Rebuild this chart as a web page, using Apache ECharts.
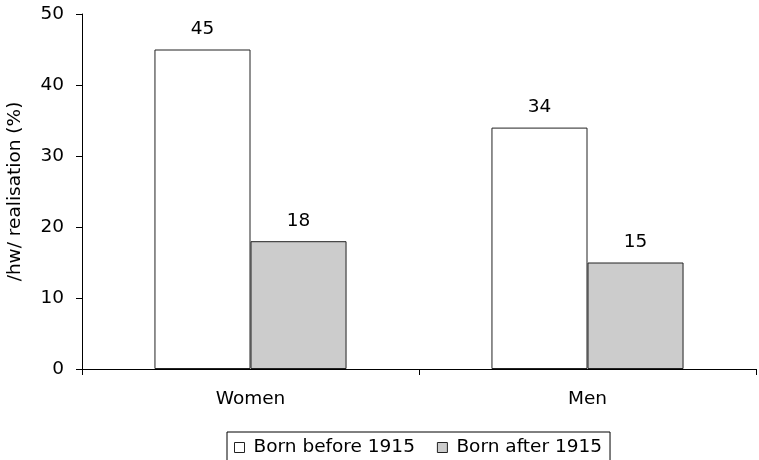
<!DOCTYPE html>
<html>
<head>
<meta charset="utf-8">
<title>/hw/ realisation by birth cohort</title>
<script src="https://cdn.jsdelivr.net/npm/echarts@6/dist/echarts.min.js"></script>
<style>
  html, body { margin: 0; padding: 0; background: #ffffff; }
  #chart { width: 759px; height: 460px; }
</style>
</head>
<body>
<div id="chart"></div>
<script>
// Groups on the horizontal axis
const categories = ['Women', 'Men'];

// Share of /hw/ realisation (%) per cohort
const bornBefore1915 = [45, 34];
const bornAfter1915 = [18, 15];

const seriesNames = ['Born before 1915', 'Born after 1915'];
const yAxisTitle = '/hw/ realisation (%)';

const FONT = 'DejaVu Sans';
const FS = 18.5;
const INK = '#000000';

const chart = echarts.init(document.getElementById('chart'), null, { renderer: 'canvas' });

const barLabel = {
  show: true,
  position: 'top',
  distance: 11,
  color: INK,
  fontFamily: FONT,
  fontSize: FS
};

chart.setOption({
  animation: false,
  backgroundColor: '#ffffff',
  grid: {
    left: 82, right: 3, top: 14, bottom: 91,
    containLabel: false,
    outerBoundsMode: 'none'
  },
  legend: {
    data: [
      { name: seriesNames[0], itemStyle: { color: '#ffffff', borderColor: '#222222', borderWidth: 1 } },
      { name: seriesNames[1], itemStyle: { color: '#cccccc', borderColor: '#222222', borderWidth: 1 } }
    ],
    left: 227,
    top: 432,
    icon: 'rect',
    itemWidth: 10,
    itemHeight: 10,
    itemGap: 22,
    padding: [6, 8, 6, 7],
    borderColor: INK,
    borderWidth: 1,
    textStyle: { color: INK, fontFamily: FONT, fontSize: FS, padding: [0, 0, 0, 4] }
  },
  xAxis: {
    type: 'category',
    data: categories,
    boundaryGap: true,
    axisLine: { lineStyle: { color: INK, width: 1 } },
    axisTick: { show: true, length: 6, lineStyle: { color: INK } },
    axisLabel: { color: INK, fontFamily: FONT, fontSize: FS, margin: 21 }
  },
  yAxis: {
    type: 'value',
    min: 0,
    max: 50,
    interval: 10,
    name: yAxisTitle,
    nameLocation: 'middle',
    nameGap: 57,
    nameRotate: 90,
    nameTextStyle: { color: INK, fontFamily: FONT, fontSize: FS },
    axisLine: { show: true, lineStyle: { color: INK, width: 1 } },
    axisTick: { show: true, length: 6, lineStyle: { color: INK } },
    axisLabel: { color: INK, fontFamily: FONT, fontSize: FS, margin: 18 },
    splitLine: { show: false }
  },
  series: [
    {
      name: seriesNames[0],
      type: 'bar',
      data: bornBefore1915,
      barGap: '0%',
      barCategoryGap: '43%',
      itemStyle: { color: '#ffffff', borderColor: '#222222', borderWidth: 1 },
      label: barLabel
    },
    {
      name: seriesNames[1],
      type: 'bar',
      data: bornAfter1915,
      itemStyle: { color: '#cccccc', borderColor: '#222222', borderWidth: 1 },
      label: barLabel
    }
  ]
});
</script>
</body>
</html>
